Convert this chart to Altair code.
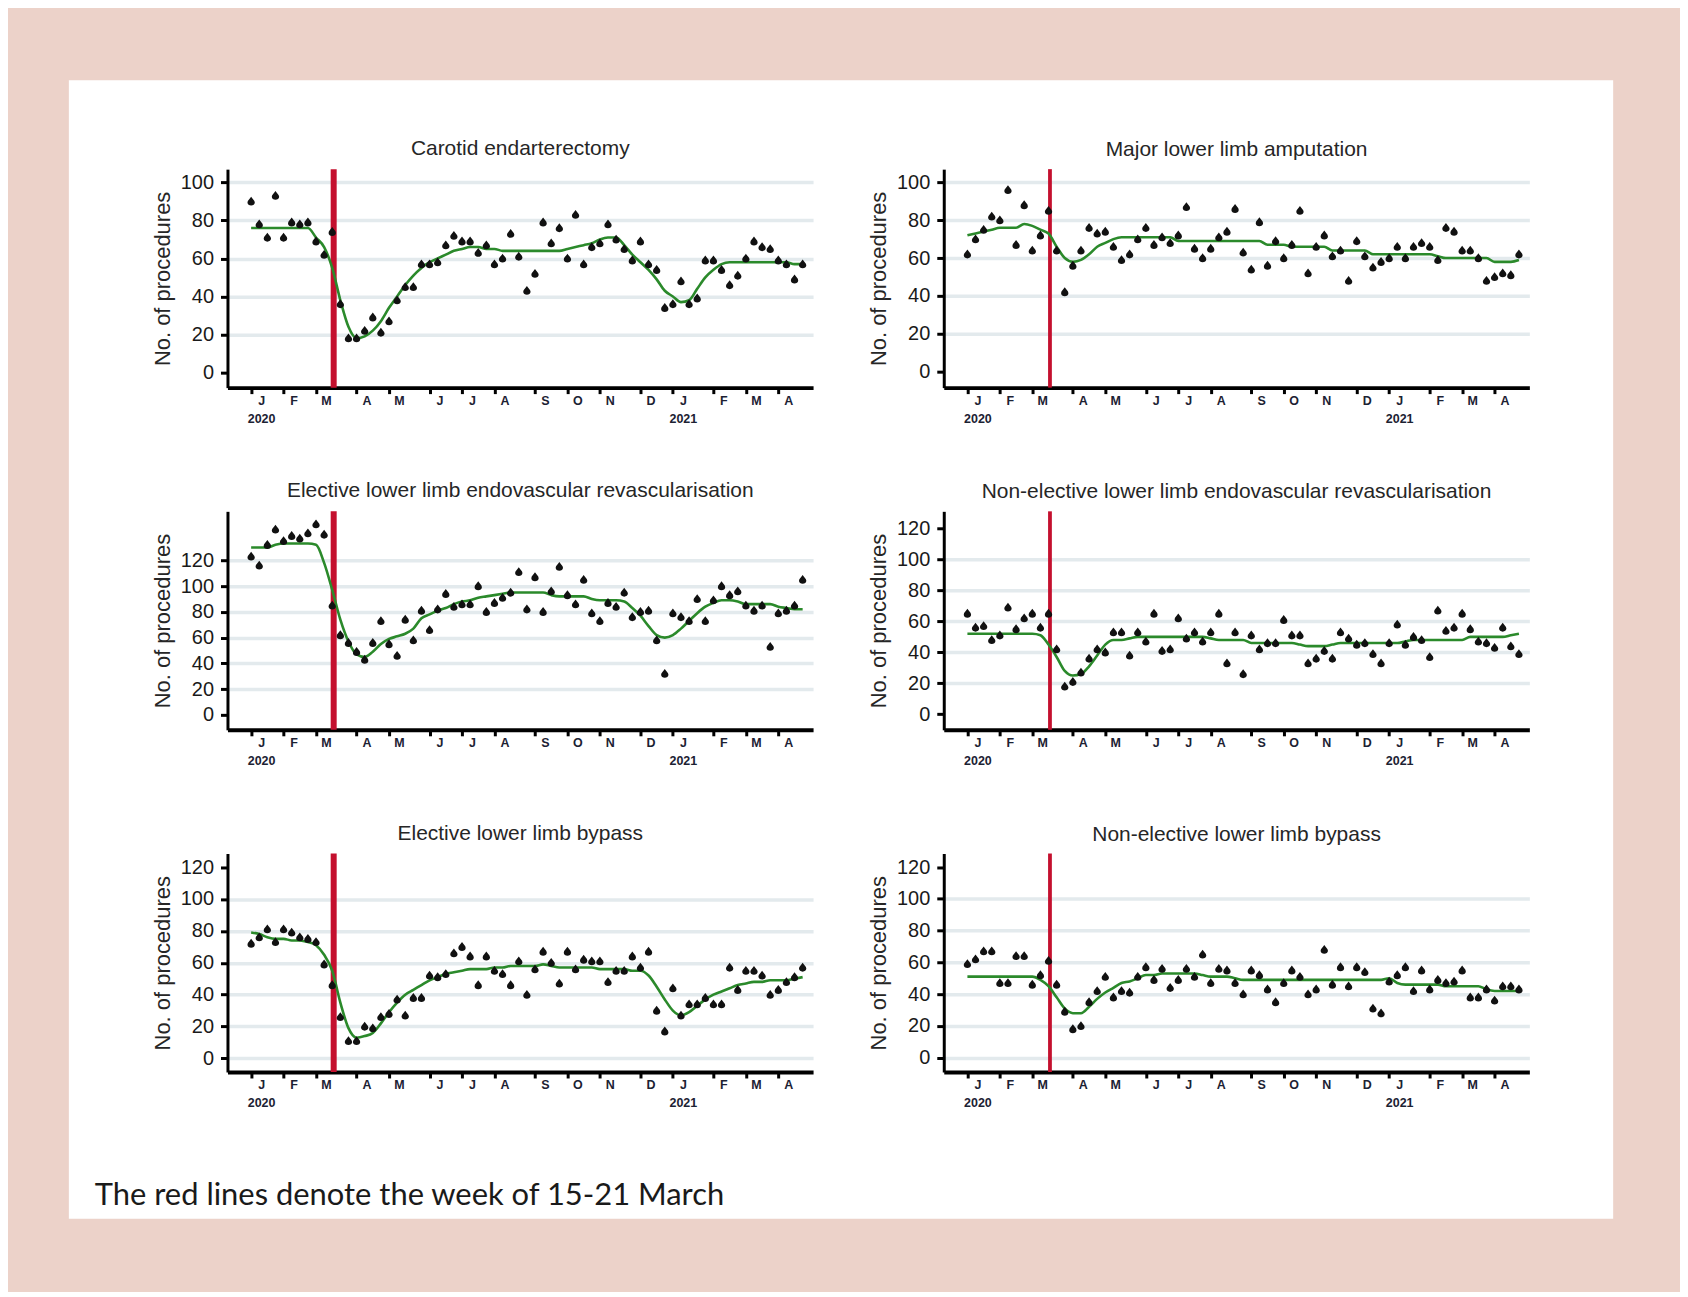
import altair as alt
import pandas as pd

# ---------------- data (weekly counts, weeks starting Sunday 5 Jan 2020) ----------------
WEEKS = pd.date_range("2020-01-05", periods=69, freq="7D")

CAROTID = [90, 78, 71, 93, 71, 79, 78, 79, 69, 62, 74, 36, 18, 18, 22, 29, 21, 27, 38, 45,
           45, 57, 57, 58, 67, 72, 69, 69, 63, 67, 57, 60, 73, 61, 43, 52, 79, 68, 76, 60,
           83, 57, 66, 68, 78, 70, 65, 59, 69, 57, 54, 34, 36, 48, 36, 39, 59, 59, 54, 46,
           51, 60, 69, 66, 65, 59, 57, 49, 57]
CAROTID_TREND = [76, 76, 76, 76, 76, 76, 76, 76, 71, 66, 55, 38, 24, 18, 19, 22, 27, 34, 40, 46,
                 51, 55, 58, 60, 62, 64, 65, 66, 66, 65, 65, 64, 64, 64, 64, 64, 64, 64, 64, 65,
                 66, 67, 68, 70, 71, 71, 67, 62, 58, 54, 49, 43, 40, 37, 38, 44, 50, 54, 57, 58,
                 58, 58, 58, 58, 58, 58, 58, 57, 57]

AMPUTATION = [62, 70, 75, 82, 80, 96, 67, 88, 64, 72, 85, 64, 42, 56, 64, 76, 73, 74, 66, 59,
              62, 70, 76, 67, 71, 68, 72, 87, 65, 60, 65, 71, 74, 86, 63, 54, 79, 56, 69, 60,
              67, 85, 52, 66, 72, 61, 64, 48, 69, 61, 55, 58, 60, 66, 60, 66, 68, 66, 59, 76,
              74, 64, 64, 60, 48, 50, 52, 51, 62]
AMPUTATION_TREND = [72, 73, 74, 75, 76, 76, 76, 78, 77, 75, 73, 66, 60, 58, 59, 62, 66, 68, 70,
                    71, 71, 71, 71, 71, 71, 71,
                    69, 69, 69, 69, 69, 69, 69, 69, 69, 69, 69,
                    67, 67, 67, 66, 66, 66, 66, 66,
                    64, 64, 64, 64, 64,
                    62, 62, 62, 62, 62, 62, 62, 62,
                    61, 60, 60, 60, 60, 60, 60, 58, 58, 58, 59]

ELECTIVE_ENDO = [123, 116, 132, 144, 135, 139, 137, 141, 148, 140, 85, 62, 56, 49, 43, 56, 73, 55, 46, 74,
                 58, 81, 66, 82, 94, 84, 86, 86, 100, 80, 87, 91, 95, 111, 82, 107, 80, 96, 115, 93,
                 86, 105, 79, 73, 87, 84, 95, 76, 80, 81, 58, 32, 79, 76, 73, 90, 73, 89, 100, 93,
                 96, 85, 81, 85, 53, 79, 81, 85, 105]
ELECTIVE_ENDO_TREND = [130, 130, 130, 132, 133, 133, 133, 133, 132,
                       118, 97, 74, 57, 47, 45, 49, 55, 59, 61, 63, 67, 75, 78, 81, 83, 86, 88, 89,
                       91, 92, 93, 94,
                       95, 95, 95, 95, 95, 93, 92, 92, 92, 92, 90, 89, 89, 89,
                       88, 83, 77, 69, 62, 60, 62, 67, 73, 79, 84, 87, 89, 89, 88, 86,
                       86, 86, 86, 84, 83, 82, 82]

NONELECTIVE_ENDO = [65, 56, 57, 48, 51, 69, 55, 62, 65, 56, 65, 42, 18, 21, 27, 36, 42, 40, 53, 53,
                    38, 53, 47, 65, 41, 42, 62, 49, 53, 47, 53, 65, 33, 53, 26, 51, 42, 46, 46, 61,
                    51, 51, 33, 36, 41, 36, 53, 49, 45, 46, 39, 33, 46, 58, 45, 50, 48, 37, 67, 54,
                    56, 65, 55, 47, 46, 43, 56, 44, 39]
NONELECTIVE_ENDO_TREND = [52, 52, 52, 52, 52, 52, 52, 52, 52, 51,
                          45, 37, 28, 25, 26, 31, 38, 45, 48, 48, 49,
                          50, 50, 50, 50, 50, 50, 50, 50, 50,
                          49, 48, 48, 48, 48, 46, 46, 46, 46, 46, 46, 45, 44, 44, 44, 45,
                          46, 46, 46, 46, 46, 46, 46, 46, 47,
                          48, 48, 48, 48, 48, 48, 48, 50, 50, 50, 50, 50, 51, 52]

ELECTIVE_BYPASS = [72, 76, 81, 73, 81, 79, 76, 75, 73, 59, 46, 26, 11, 11, 20, 19, 26, 28, 37, 27,
                   38, 38, 52, 51, 53, 66, 70, 64, 46, 64, 55, 53, 46, 61, 40, 56, 67, 60, 47, 67,
                   56, 62, 61, 61, 48, 55, 55, 64, 57, 67, 30, 17, 44, 27, 34, 34, 38, 34, 34, 57,
                   43, 55, 55, 52, 40, 43, 48, 51, 57]
ELECTIVE_BYPASS_TREND = [79, 78, 76, 75, 75, 74, 74, 73, 71, 65, 55, 35, 19, 13, 14, 16, 22, 29, 35, 40,
                         43, 46, 49, 51, 53, 54, 55, 56, 56, 56, 57, 57, 58, 58, 58, 58, 59, 58, 57, 57,
                         57, 57, 57, 56, 56, 56, 56, 55, 55, 52, 45, 37, 30, 27, 29, 33, 37, 40, 42, 44,
                         46, 47, 48, 48, 49, 49, 49, 50, 51]

NONELECTIVE_BYPASS = [59, 62, 67, 67, 47, 47, 64, 64, 46, 52, 61, 46, 29, 18, 20, 35, 42, 51, 38, 42,
                      41, 51, 57, 49, 56, 44, 49, 56, 51, 65, 47, 56, 55, 47, 40, 55, 52, 43, 35, 47,
                      55, 51, 40, 43, 68, 46, 57, 45, 57, 54, 31, 28, 48, 52, 57, 42, 55, 43, 49, 47,
                      48, 55, 38, 38, 43, 36, 45, 45, 43]
NONELECTIVE_BYPASS_TREND = [51, 51, 51, 51, 51, 51, 51, 51, 51,
                            49, 45, 38, 31, 28, 28, 32, 37, 41, 44, 47, 48, 50, 52, 52,
                            53, 53, 53, 53, 53, 52, 51, 51, 51, 50,
                            49, 49, 49, 49, 49, 49, 49, 49, 49, 49, 49, 49, 49, 49, 49, 49, 49, 49,
                            50, 47, 46, 46, 46, 46, 46, 45, 45, 45, 45, 45, 43, 42, 42, 42, 42]

TITLES = ["Carotid endarterectomy", "Major lower limb amputation",
          "Elective lower limb endovascular revascularisation",
          "Non-elective lower limb endovascular revascularisation",
          "Elective lower limb bypass", "Non-elective lower limb bypass"]
Y_TICKS_100 = [0, 20, 40, 60, 80, 100]
Y_TICKS_120 = [0, 20, 40, 60, 80, 100, 120]
RED_WEEK = ["2020-03-16T06:00:00"]
CAPTION = "The red lines denote the week of 15-21 March"

# ---------------- styling ----------------
FONT = "Liberation Sans"
PINK = "#ecd2c9"
RED = "#c4102e"
GREEN = "#2b8a2b"
GRID = "#e3eaed"
TEAR = ("M0,-1.1 C0.3,-0.6 0.85,-0.25 0.85,0.25 C0.85,0.7 0.45,0.95 0,0.95 "
        "C-0.45,0.95 -0.85,0.7 -0.85,0.25 C-0.85,-0.25 -0.3,-0.6 0,-1.1 Z")
PW, PH = 587, 219

TICK_DATES = [alt.DateTime(year=d.year, month=d.month, date=d.day) for d in WEEKS if d.day <= 7]
X_DOMAIN = [alt.DateTime(year=2019, month=12, date=15, hours=14),
            alt.DateTime(year=2021, month=5, date=4)]

LETTER = "substring(timeFormat(datum.value, '%b'), 0, 1)"
LABEL_EXPR = f"month(datum.value) == 0 ? [{LETTER}, timeFormat(datum.value, '%Y')] : {LETTER}"


def x_enc():
    return alt.X(
        "week:T",
        scale=alt.Scale(domain=X_DOMAIN),
        axis=alt.Axis(
            values=TICK_DATES, labelExpr=LABEL_EXPR, title=None, grid=False,
            tickSize=6, tickWidth=3, tickColor="black",
            domainColor="black", domainWidth=4,
            labelFont=FONT, labelFontSize=12.5, labelFontWeight="bold", labelColor="#1c2233",
            labelOffset=10, labelPadding=1, labelLineHeight=18,
            labelOverlap=False, labelFlush=False,
        ),
    )


def panel(title, values, trend, ydomain, yticks, nogrid, redwidth):
    df = pd.DataFrame({"week": WEEKS, "value": values, "trend": trend})
    test = " || ".join(f"datum.value === {v}" for v in nogrid) if nogrid else "false"
    yaxis = alt.Axis(
        values=yticks, title="No. of procedures",
        titleFont=FONT, titleFontSize=22, titleFontWeight="normal", titleColor="#262626",
        titlePadding=6,
        labelFont=FONT, labelFontSize=20, labelColor="#1a1a1a", labelPadding=7,
        tickSize=7, tickWidth=3, tickColor="black",
        domainColor="black", domainWidth=3,
        grid=True, gridColor=GRID, gridWidth=3.5,
        gridOpacity={"condition": {"test": test, "value": 0}, "value": 1},
    )
    yscale = alt.Scale(domain=ydomain, nice=False, zero=False)
    red = alt.Chart(pd.DataFrame({"week": RED_WEEK})).mark_rule(
        color=RED, strokeWidth=redwidth).encode(x=x_enc())
    line = alt.Chart(df).mark_line(color=GREEN, strokeWidth=2.6, interpolate="monotone").encode(
        x=x_enc(), y=alt.Y("trend:Q", scale=yscale, axis=yaxis))
    pts = alt.Chart(df).mark_point(shape=TEAR, filled=True, size=75, color="#111111",
                                   opacity=1).encode(
        x=x_enc(), y=alt.Y("value:Q", scale=yscale, axis=yaxis))
    return alt.layer(red, line, pts).properties(
        width=PW, height=PH,
        title=alt.TitleParams(title, font=FONT, fontSize=21, fontWeight="normal",
                              color="#262626", offset=-10, baseline="alphabetic",
                              anchor="middle"),
    )


p1 = panel(TITLES[0], CAROTID, CAROTID_TREND, [-8, 107], Y_TICKS_100, [0], 6)
p2 = panel(TITLES[1], AMPUTATION, AMPUTATION_TREND, [-8.5, 107], Y_TICKS_100, [0], 3.8)
p3 = panel(TITLES[2], ELECTIVE_ENDO, ELECTIVE_ENDO_TREND, [-11.5, 158], Y_TICKS_120, [0], 6)
p4 = panel(TITLES[3], NONELECTIVE_ENDO, NONELECTIVE_ENDO_TREND, [-10, 131], Y_TICKS_120, [0, 120], 3.8)
p5 = panel(TITLES[4], ELECTIVE_BYPASS, ELECTIVE_BYPASS_TREND, [-8.5, 128.5], Y_TICKS_120, [120], 6)
p6 = panel(TITLES[5], NONELECTIVE_BYPASS, NONELECTIVE_BYPASS_TREND, [-9, 128.5], Y_TICKS_120, [120], 3.8)

grid = alt.concat(p1, p2, p3, p4, p5, p6, columns=2,
                  spacing={"row": 124, "column": 131}, bounds="flush")

one = pd.DataFrame({"k": [1]})
white = alt.Chart(one).mark_rect(color="white").encode(
    x=alt.value(-159), x2=alt.value(1389), y=alt.value(-79), y2=alt.value(1062))
caption = alt.Chart(one).mark_text(
    text=CAPTION, align="left", baseline="alphabetic", font="Lato", fontSize=31,
    color="#1a1a1a").encode(x=alt.value(-133), y=alt.value(1048))
host = alt.layer(white, caption).properties(width=PW, height=10)

chart = alt.vconcat(host, grid, spacing=0, bounds="flush").properties(
    padding={"left": 61, "top": 71, "right": 67, "bottom": 72},
    background=PINK,
).configure_view(strokeWidth=0)

chart.save("out.html", embed_options={"renderer": "svg", "actions": False})
